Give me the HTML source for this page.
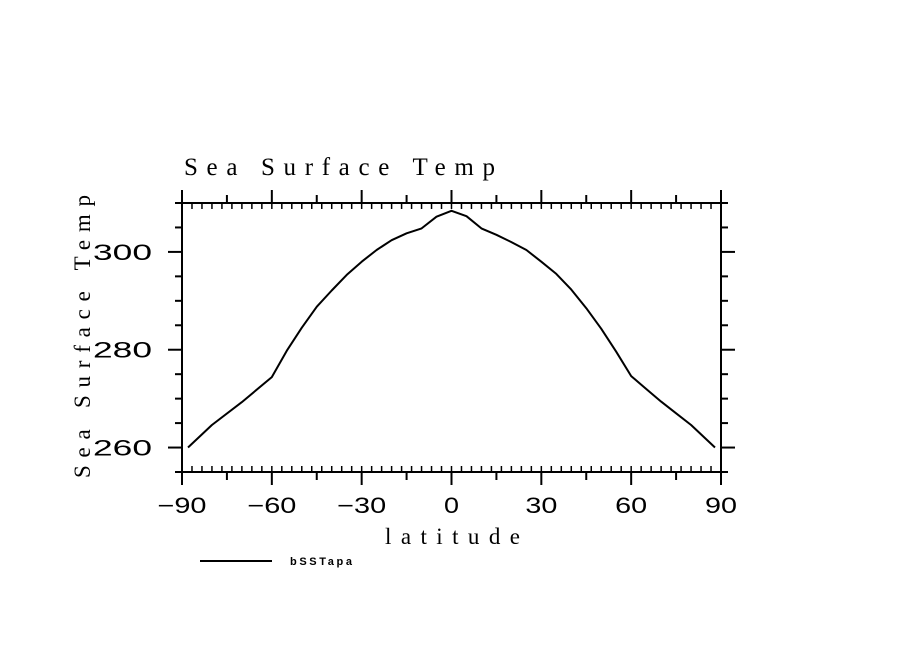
<!DOCTYPE html>
<html><head><meta charset="utf-8"><style>html,body{margin:0;padding:0;background:#fff}svg{display:block}</style></head>
<body>
<svg id="chart" width="904" height="654" viewBox="0 0 904 654" xmlns="http://www.w3.org/2000/svg">
<rect width="904" height="654" fill="#fff"/>
<g id="axes" stroke="#000" stroke-width="2" fill="none"></g>
<g id="labels" fill="#000"></g>
<path id="line" fill="none" stroke="#000" stroke-width="2" stroke-linejoin="round"/>
<text x="184" y="175" font-family="Liberation Serif, serif" font-size="25" textLength="311" lengthAdjust="spacing">Sea Surface Temp</text>
<text x="385" y="544" font-family="Liberation Serif, serif" font-size="23" textLength="135" lengthAdjust="spacing">latitude</text>
<text transform="translate(90,478) rotate(-90)" x="0" y="0" font-family="Liberation Serif, serif" font-size="23" textLength="283" lengthAdjust="spacing">Sea Surface Temp</text>
<line x1="200" y1="561" x2="272" y2="561" stroke="#000" stroke-width="2"/>
<text x="290" y="565" font-family="Liberation Sans, sans-serif" font-weight="bold" font-size="11" textLength="62" lengthAdjust="spacing">bSSTapa</text>
</svg>
<script>
const lats = [-88,-80,-70,-60,-55,-50,-45,-40,-35,-30,-25,-20,-15,-10,-5,0,5,10,15,20,25,30,35,40,45,50,55,60,65,70,75,80,88];
const sst = [260,264.6,269.3,274.4,279.8,284.5,288.8,292.1,295.3,298,300.4,302.4,303.8,304.8,307.2,308.4,307.3,304.8,303.5,302,300.4,298,295.5,292.3,288.5,284.3,279.6,274.6,272,269.4,267,264.6,260];
const xTicks = [-90,-60,-30,0,30,60,90];
const yTicks = [260,280,300];
const xTickLabels = ["\u221290","\u221260","\u221230","0","30","60","90"];
const yTickLabels = ["260","280","300"];

const X0=182,X1=721,Y0=472,Y1=203, XMIN=-90,XMAX=90,YMIN=255,YMAX=310;
function sx(v){return X0+(v-XMIN)/(XMAX-XMIN)*(X1-X0);}
function sy(v){return Y0-(v-YMIN)/(YMAX-YMIN)*(Y0-Y1);}
const NS="http://www.w3.org/2000/svg";
const axes=document.getElementById('axes'), labels=document.getElementById('labels');
function ln(x1,y1,x2,y2,name,w){const l=document.createElementNS(NS,'line');
l.setAttribute('x1',x1);l.setAttribute('y1',y1);l.setAttribute('x2',x2);l.setAttribute('y2',y2);
if(w)l.setAttribute('stroke-width',w);


axes.appendChild(l);}
ln(X0,Y1,X1,Y1,'frame-top');ln(X0,Y0,X1,Y0,'frame-bottom');ln(X0,Y1,X0,Y0,'frame-left');ln(X1,Y1,X1,Y0,'frame-right');
// x major ticks outward
for(let v=XMIN;v<=XMAX;v+=30){const x=sx(v);ln(x,Y1,x,Y1-13,'x-major-tick-top');ln(x,Y0,x,Y0+13,'x-major-tick-bottom');}
for(let v=XMIN+15;v<XMAX;v+=30){const x=sx(v);ln(x,Y1,x,Y1-8,'x-minor-tick-top');ln(x,Y0,x,Y0+8,'x-minor-tick-bottom');}
// inward dense ticks
for(let i=1;i<54;i++){const x=sx(XMIN+i*10/3);ln(x,Y1,x,Y1+6,'x-inner-tick-top',1.5);ln(x,Y0,x,Y0-6,'x-inner-tick-bottom',1.5);}
// y ticks
for(let v=YMIN;v<=YMAX;v+=5){const y=sy(v);const maj=(v%20===0);const L=maj?14:7;
ln(X0,y,X0-L,y,maj?'y-major-tick-left':'y-minor-tick-left');ln(X1,y,X1+L,y,maj?'y-major-tick-right':'y-minor-tick-right');}
xTicks.forEach((v,i)=>{const t=document.createElementNS(NS,'text');
const s=xTickLabels[i];const w=s.length*17-2;
t.setAttribute('x',sx(v)-w/2+(s.length===3?0:0));t.setAttribute('y',513);
t.setAttribute('font-family','Liberation Sans, sans-serif');t.setAttribute('font-size','22');
t.setAttribute('textLength',w);t.setAttribute('lengthAdjust','spacingAndGlyphs');
t.textContent=s;


labels.appendChild(t);});
yTicks.forEach((v,i)=>{const t=document.createElementNS(NS,'text');
t.setAttribute('x',93);t.setAttribute('y',sy(v)+8);
t.setAttribute('font-family','Liberation Sans, sans-serif');t.setAttribute('font-size','22');
t.setAttribute('textLength',59);t.setAttribute('lengthAdjust','spacingAndGlyphs');
t.textContent=yTickLabels[i];


labels.appendChild(t);});
document.getElementById('line').setAttribute('d',lats.map((v,i)=>(i?'L':'M')+sx(v).toFixed(1)+' '+sy(sst[i]).toFixed(1)).join(' '));
</script>
</body></html>
